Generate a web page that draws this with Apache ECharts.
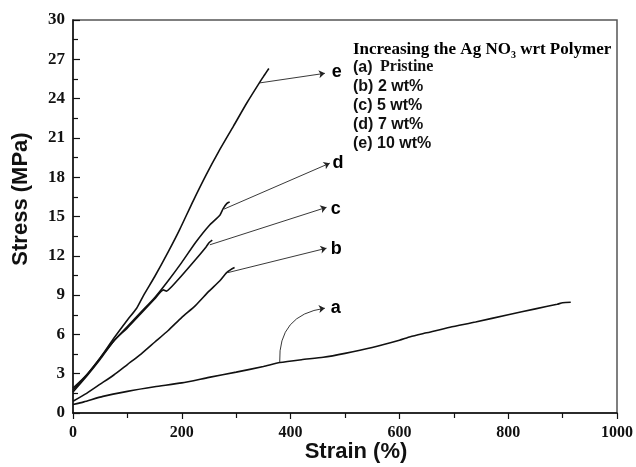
<!DOCTYPE html>
<html>
<head>
<meta charset="utf-8">
<script src="https://cdn.jsdelivr.net/npm/echarts@6/dist/echarts.min.js"></script>
<style>html,body{margin:0;padding:0;background:#fff}#c{width:636px;height:467px}</style>
</head>
<body>
<div id="c"></div>
<script>
// Data (strain %, stress MPa)
const strainA = [0, 20, 55, 100, 150, 200, 250, 300, 350, 380, 420, 460, 500, 550, 600, 620, 650, 693, 740, 800, 850, 890, 900, 915];
const stressA = [0.65, 0.85, 1.27, 1.65, 2.0, 2.3, 2.72, 3.12, 3.55, 3.85, 4.07, 4.25, 4.55, 5.0, 5.55, 5.82, 6.12, 6.55, 6.95, 7.5, 7.95, 8.3, 8.42, 8.45];
const strainB = [0, 25, 50, 75, 100, 125, 150, 175, 200, 225, 250, 270, 282, 290, 297];
const stressB = [0.9, 1.5, 2.2, 2.9, 3.7, 4.5, 5.4, 6.3, 7.3, 8.2, 9.3, 10.1, 10.7, 10.95, 11.1];
const strainC = [0, 25, 50, 75, 100, 125, 150, 166, 172, 178, 200, 225, 245, 250, 256];
const stressC = [1.6, 2.8, 4.1, 5.5, 6.5, 7.6, 8.7, 9.4, 9.3, 9.5, 10.5, 11.7, 12.7, 13.0, 13.2];
const strainD = [0, 25, 50, 75, 100, 125, 150, 175, 200, 225, 250, 270, 276, 283, 288];
const stressD = [1.75, 2.9, 4.2, 5.5, 6.6, 7.7, 8.8, 10.1, 11.5, 13.0, 14.3, 15.1, 15.6, 16.0, 16.1];
const strainE = [0, 25, 50, 75, 100, 117, 130, 150, 175, 196, 221, 245, 267, 295, 320, 344, 352, 360];
const stressE = [1.9, 2.9, 4.2, 5.7, 7.1, 8.0, 9.0, 10.4, 12.3, 14.0, 16.2, 18.2, 19.9, 21.9, 23.7, 25.3, 25.8, 26.3];

// Annotation arrows (data coordinates: tail -> head) and their letters
const arrowLetters = ['a', 'b', 'c', 'd', 'e'];
const arrowTails = [[380, 3.9], [285, 10.72], [251.6, 12.84], [277.3, 15.56], [343.6, 25.2]];
const arrowHeads = [[463, 8.0], [466, 12.58], [466, 15.7], [472, 19.07], [463, 25.93]];
const arrowBend = [0.45, 0, 0, 0, 0];
const labelPos = [[483, 8.0], [484, 12.5], [483, 15.6], [487, 19.1], [485, 26.0]];

const xTicks = {min: 0, max: 1000, interval: 200};
const yTicks = {min: 0, max: 30, interval: 3};

const legendLines = ['(a)', '(b) 2 wt%', '(c) 5 wt%', '(d) 7 wt%', '(e) 10 wt%'];

const zip = (xs, ys) => xs.map((x, i) => [x, ys[i]]);
const curves = [[strainA, stressA], [strainB, stressB], [strainC, stressC], [strainD, stressD], [strainE, stressE]];

const chart = echarts.init(document.getElementById('c'));
const serif = '"Liberation Serif","Times New Roman",serif';
const sans = '"Liberation Sans",Arial,sans-serif';

const series = curves.map((c) => ({
  type: 'line', data: zip(c[0], c[1]), showSymbol: false, smooth: 0.2,
  lineStyle: {color: '#111', width: 1.6}, silent: true, z: 3
}));
series.push({
  type: 'lines', coordinateSystem: 'cartesian2d',
  symbol: ['none', 'arrow'], symbolSize: 6,
  lineStyle: {color: '#222', width: 0.9, opacity: 1},
  data: arrowTails.map((t, i) => ({coords: [t, arrowHeads[i]], lineStyle: {curveness: arrowBend[i]}})),
  silent: true, z: 4
});
series.push({
  type: 'scatter', symbolSize: 0, silent: true,
  itemStyle: {opacity: 1},
  data: labelPos.map((p, i) => ({value: p, name: arrowLetters[i]})),
  label: {show: true, position: 'inside', formatter: '{b}', color: '#000', opacity: 1,
    fontFamily: sans, fontWeight: 'bold', fontSize: 18}
});

const legendGraphics = legendLines.map((t, i) => ({
  type: 'text', left: 353, top: 60 + i * 18.9,
  style: {text: t, font: 'bold 16px ' + sans, fill: '#111'}
}));
legendGraphics.push({
  type: 'text', left: 380, top: 59,
  style: {text: 'Pristine', font: 'bold 16px ' + serif, fill: '#111'}
});
legendGraphics.push({
  type: 'text', left: 353, top: 41,
  style: {
    text: '{t|Increasing the Ag NO}{s|3}{t| wrt Polymer}',
    rich: {
      t: {fontFamily: serif, fontWeight: 'bold', fontSize: 17, color: '#111'},
      s: {fontFamily: serif, fontWeight: 'bold', fontSize: 10, color: '#111', padding: [11, 0, 0, 0]}
    }
  }
});
legendGraphics.push({
  type: 'text', x: 356, y: 452,
  style: {text: 'Strain (%)', font: 'bold 22px ' + sans, fill: '#111', align: 'center', verticalAlign: 'middle'}
});
legendGraphics.push({
  type: 'text', x: 21, y: 199, rotation: Math.PI / 2,
  style: {text: 'Stress (MPa)', font: 'bold 22px ' + sans, fill: '#111', align: 'center', verticalAlign: 'middle'}
});

chart.setOption({
  animation: false,
  grid: {left: 73, right: 19, top: 20, bottom: 54, show: true, borderColor: '#555', borderWidth: 1.5, backgroundColor: 'transparent'},
  xAxis: {
    type: 'value', min: xTicks.min, max: xTicks.max, interval: xTicks.interval,
    axisLine: {show: true, lineStyle: {color: '#111', width: 1.5}},
    axisTick: {show: true, inside: false, length: 6, lineStyle: {color: '#111', width: 1.2}},
    minorTick: {show: true, splitNumber: 2, length: 5, lineStyle: {color: '#111', width: 1.2}},
    splitLine: {show: false},
    axisLabel: {color: '#111', fontFamily: serif, fontWeight: 'bold', fontSize: 16, margin: 12,
      formatter: (v) => String(v)}
  },
  yAxis: {
    type: 'value', min: yTicks.min, max: yTicks.max, interval: yTicks.interval,
    axisLine: {show: true, lineStyle: {color: '#111', width: 1.5}},
    axisTick: {show: true, inside: true, length: 7, lineStyle: {color: '#111', width: 1.2}},
    minorTick: {show: true, splitNumber: 2, length: 5, lineStyle: {color: '#111', width: 1.2}},
    splitLine: {show: false},
    axisLabel: {color: '#111', fontFamily: serif, fontWeight: 'bold', fontSize: 17, margin: 8,
      formatter: (v) => String(v)}
  },
  graphic: legendGraphics,
  series: series
});
</script>
</body>
</html>
